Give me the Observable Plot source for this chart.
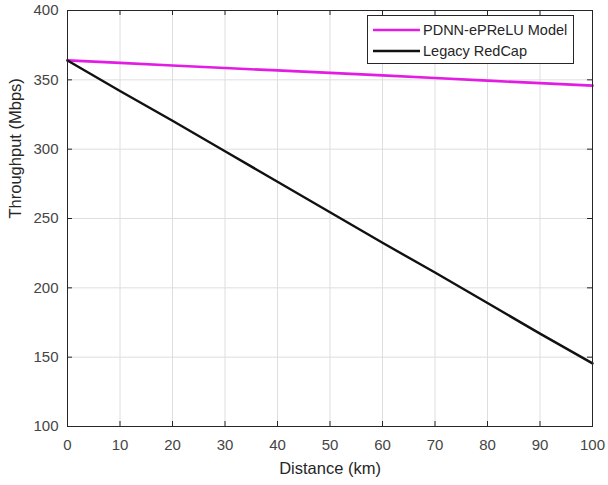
<!DOCTYPE html>
<html>
<head>
<meta charset="utf-8">
<script src="https://cdn.jsdelivr.net/npm/d3@7"></script>
<script src="https://cdn.jsdelivr.net/npm/@observablehq/plot@0.6"></script>
<style>
  html, body { margin: 0; padding: 0; background: #fff; }
  #chart { position: relative; width: 608px; height: 485px; font-family: "Liberation Sans", Arial, sans-serif; }
  .legend {
    position: absolute; left: 367px; top: 15px; width: 207px; height: 49px;
    box-sizing: border-box; border: 1px solid #262626; background: #fff;
    font-size: 14.5px; color: #262626; padding-top: 3px;
  }
  .legend .row { display: flex; align-items: center; height: 21px; }
  .legend svg { margin-left: 5px; margin-right: 3px; }
</style>
</head>
<body>
<div id="chart"></div>
<script>
// Throughput versus distance for the two receiver models
const distanceKm = [0, 10, 20, 30, 40, 50, 60, 70, 80, 90, 100];
const pdnnThroughput = [364, 362.2, 360.3, 358.5, 356.8, 355.0, 353.2, 351.3, 349.4, 347.6, 345.8];
const legacyThroughput = [364, 342, 320.5, 298.5, 276.5, 254.5, 232.5, 211, 189, 167, 145.5];

const seriesNames = ["PDNN-ePReLU Model", "Legacy RedCap"];
const seriesColors = ["#e31ce3", "#111111"];

const xTicks = [0, 10, 20, 30, 40, 50, 60, 70, 80, 90, 100];
const yTicks = [100, 150, 200, 250, 300, 350, 400];

const rows = distanceKm.map((d, i) => ({ distance: d, pdnn: pdnnThroughput[i], legacy: legacyThroughput[i] }));

const axisColor = "#262626";
const labelColor = "#454545";
const tickLen = 5;
const innerW = 608 - 67 - 16;
const innerH = 485 - 10 - 59;

const chart = Plot.plot({
  width: 608,
  height: 485,
  marginLeft: 67,
  marginRight: 16,
  marginTop: 10,
  marginBottom: 59,
  style: { fontFamily: "Liberation Sans, Arial, sans-serif", background: "#fff", overflow: "visible" },
  x: { domain: [0, 100], label: null },
  y: { domain: [100, 400], label: null },
  marks: [
    Plot.gridX(xTicks, { stroke: "#dedede", strokeOpacity: 1 }),
    Plot.gridY(yTicks, { stroke: "#dedede", strokeOpacity: 1 }),
    Plot.line(rows, { x: "distance", y: "pdnn", stroke: seriesColors[0], strokeWidth: 2.6 }),
    Plot.line(rows, { x: "distance", y: "legacy", stroke: seriesColors[1], strokeWidth: 2.4 }),
    Plot.frame({ stroke: axisColor, strokeWidth: 1 }),
    // inward tick marks on all four sides
    Plot.tickX(xTicks, { x: d => d, insetTop: innerH - tickLen, stroke: axisColor }),
    Plot.tickX(xTicks, { x: d => d, insetBottom: innerH - tickLen, stroke: axisColor }),
    Plot.tickY(yTicks, { y: d => d, insetRight: innerW - tickLen, stroke: axisColor }),
    Plot.tickY(yTicks, { y: d => d, insetLeft: innerW - tickLen, stroke: axisColor }),
    Plot.axisX(xTicks, { tickSize: 0, tickPadding: 13, fontSize: 15, fill: labelColor, label: null }),
    Plot.axisY(yTicks, { tickSize: 0, tickPadding: 9, fontSize: 15, fill: labelColor, label: null }),
    Plot.text(["Distance (km)"], { frameAnchor: "bottom", dy: 36, lineAnchor: "top", text: d => d, fontSize: 16.5, fill: axisColor }),
    Plot.text(["Throughput (Mbps)"], { frameAnchor: "left", dx: -51.5, rotate: -90, text: d => d, fontSize: 16.5, fill: axisColor })
  ]
});

const root = document.getElementById("chart");
root.appendChild(chart);

// legend box in the upper right of the axes
const legend = document.createElement("div");
legend.className = "legend";
seriesNames.forEach((name, i) => {
  const row = document.createElement("div");
  row.className = "row";
  row.innerHTML = `<svg width="47" height="6"><line x1="0" x2="47" y1="3" y2="3" stroke="${seriesColors[i]}" stroke-width="2.6"/></svg><span>${name}</span>`;
  legend.appendChild(row);
});
root.appendChild(legend);
</script>
</body>
</html>
